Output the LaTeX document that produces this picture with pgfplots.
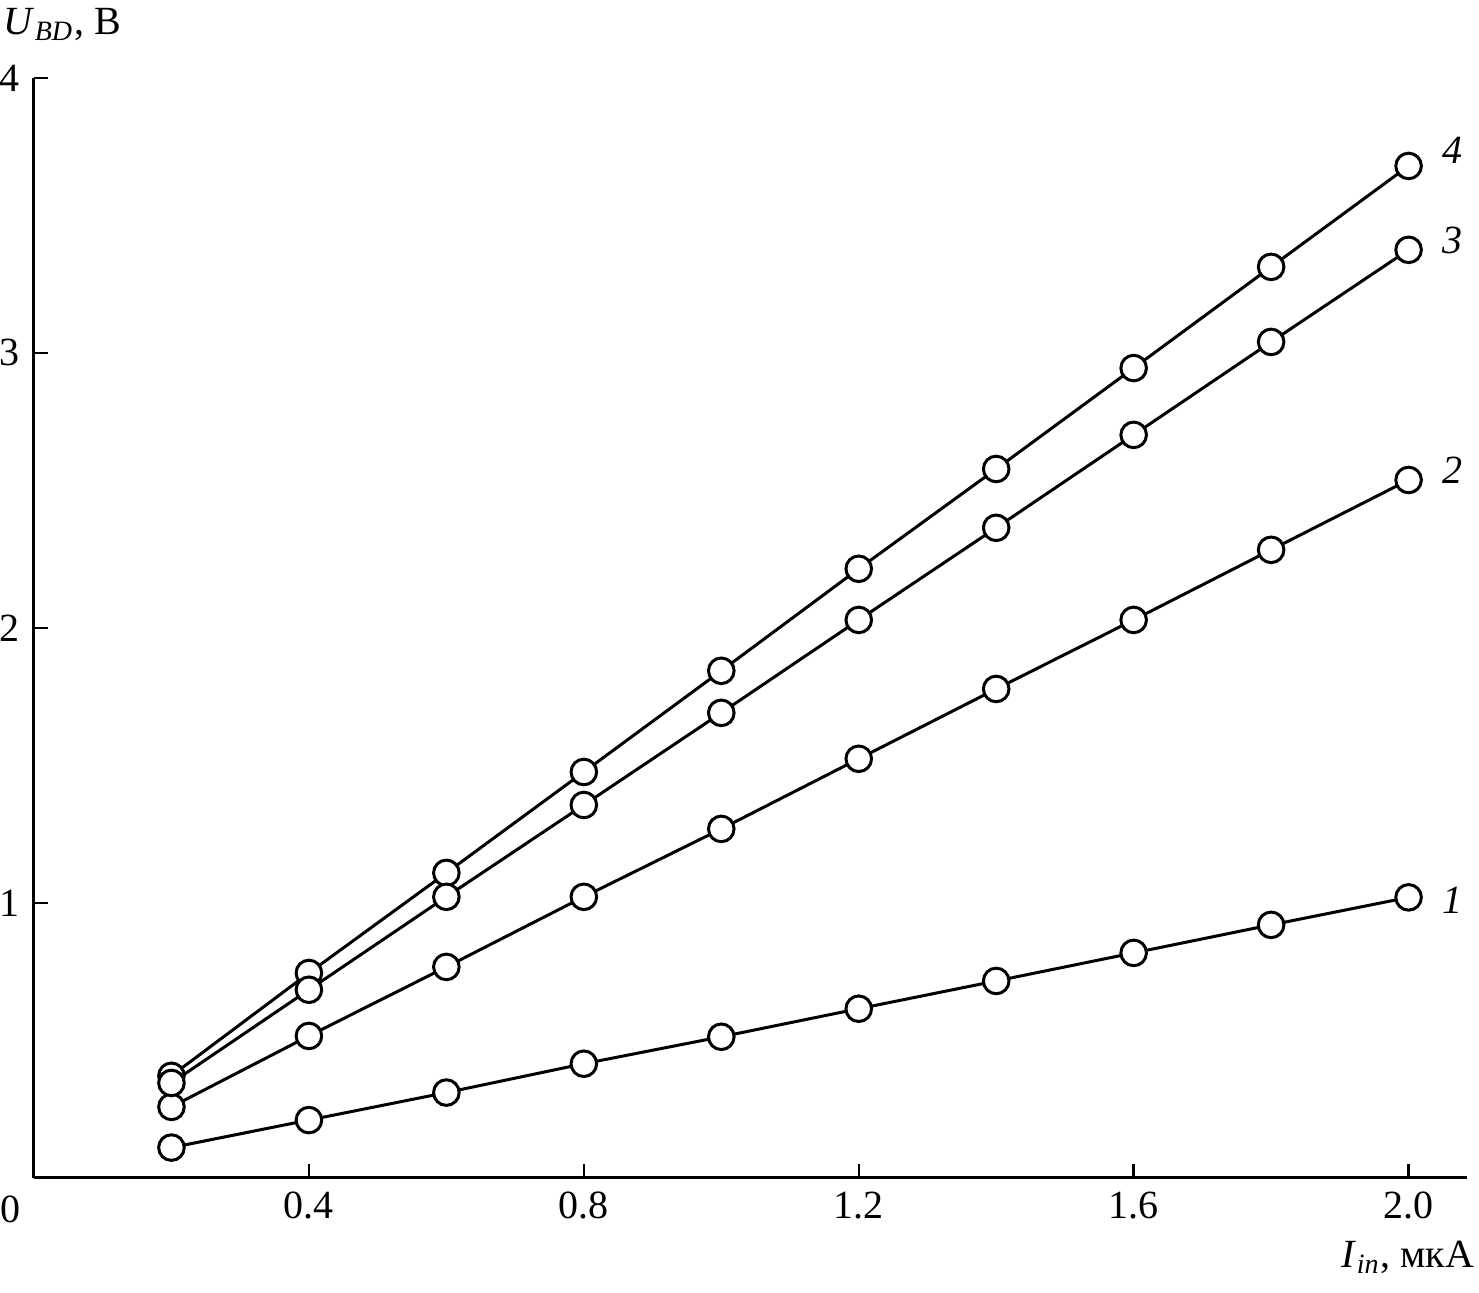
\documentclass[border=0pt]{standalone}
\usepackage{pgfplots}
\pgfplotsset{compat=1.18}
\usepackage{fontspec}
\setmainfont{Liberation Serif}
\tikzset{curve/.style={line width=0.75pt, black, mark=*, mark size=3.2pt, mark options={fill=white, draw=black, line width=0.75pt, solid}}}
\begin{document}
\fontsize{10}{12}\selectfont
\begin{tikzpicture}
\begin{axis}[
  scale only axis,
  width=358.3pt, height=275pt,
  xmin=0, xmax=2.085, ymin=0, ymax=4,
  axis x line*=bottom, axis y line*=left,
  axis line style={line width=0.75pt},
  tick align=inside,
  major tick length=3.5pt,
  tick style={line width=0.6pt, black},
  xtick={0.4,0.8,1.2,1.6,2.0},
  ytick={1,2,3,4},
  xticklabel style={/pgf/number format/.cd, fixed, fixed zerofill, precision=1},
  /pgf/number format/assume math mode=true,
  ticklabel style={font=\fontsize{10}{12}\selectfont},
  clip=false,
]
\addplot[curve] coordinates {(0.2,0.11) (0.4,0.21) (0.6,0.31) (0.8,0.415) (1.0,0.513) (1.2,0.615) (1.4,0.716) (1.6,0.818) (1.8,0.92) (2.0,1.02)};
\addplot[curve] coordinates {(0.2,0.258) (0.4,0.516) (0.6,0.767) (0.8,1.022) (1.0,1.269) (1.2,1.524) (1.4,1.778) (1.6,2.029) (1.8,2.284) (2.0,2.538)};
\addplot[curve] coordinates {(0.2,0.371) (0.4,0.745) (0.6,1.109) (0.8,1.476) (1.0,1.844) (1.2,2.215) (1.4,2.578) (1.6,2.945) (1.8,3.313) (2.0,3.68)};
\addplot[curve] coordinates {(0.2,0.345) (0.4,0.684) (0.6,1.022) (0.8,1.356) (1.0,1.691) (1.2,2.029) (1.4,2.364) (1.6,2.702) (1.8,3.04) (2.0,3.375)};
\node[anchor=west, inner sep=0pt] at (axis cs:2.048,3.738) {\textit{4}};
\node[anchor=west, inner sep=0pt] at (axis cs:2.048,3.41) {\textit{3}};
\node[anchor=west, inner sep=0pt] at (axis cs:2.048,2.575) {\textit{2}};
\node[anchor=west, inner sep=0pt] at (axis cs:2.048,1.01) {\textit{1}};
\node[anchor=base west, inner sep=0pt] at ([xshift=-7.75pt, yshift=10.75pt]rel axis cs:0,1) {\textit{U}\textsubscript{\textit{BD}}, В};
\node[anchor=base east, inner sep=0pt] at ([xshift=2pt, yshift=-22.5pt]rel axis cs:1,0) {\textit{I}\textsubscript{\textit{in}}, мкА};
\node[anchor=center, inner sep=0pt] at ([xshift=-6pt, yshift=-8pt]rel axis cs:0,0) {0};
\coordinate (bl) at (rel axis cs:0,0);
\coordinate (tr) at (rel axis cs:1,1);
\end{axis}
\pgfresetboundingbox
\path[use as bounding box] ([shift={(-8.5pt,-28.75pt)}]bl) rectangle ([shift={(3pt,19.5pt)}]tr);
\end{tikzpicture}
\end{document}
